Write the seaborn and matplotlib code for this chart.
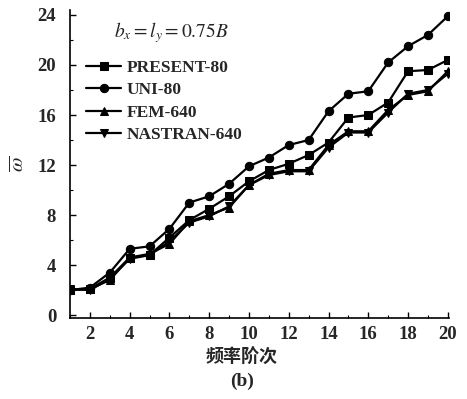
import numpy as np
import pandas as pd
import seaborn as sns
import matplotlib.pyplot as plt
from matplotlib.ticker import MultipleLocator

# frequency order 1..20
modes = list(range(1, 21))

present_80 = [2.0, 2.1, 3.0, 4.6, 4.8, 6.2, 7.6, 8.5, 9.5, 10.7,
              11.6, 12.1, 12.8, 13.8, 15.8, 16.0, 17.0, 19.5, 19.6, 20.4]
uni_80 = [2.0, 2.2, 3.4, 5.3, 5.5, 6.9, 9.0, 9.5, 10.5, 11.9,
          12.6, 13.6, 14.0, 16.3, 17.7, 17.9, 20.2, 21.5, 22.4, 23.9]
fem_640 = [2.0, 2.1, 2.8, 4.6, 4.9, 5.7, 7.5, 8.0, 8.6, 10.4,
           11.3, 11.6, 11.6, 13.6, 14.7, 14.7, 16.4, 17.6, 17.9, 19.5]
nastran_640 = [2.1, 2.0, 2.9, 4.5, 4.8, 5.9, 7.4, 7.9, 8.7, 10.4,
               11.2, 11.5, 11.5, 13.4, 14.6, 14.6, 16.2, 17.7, 18.0, 19.3]

series_names = ["PRESENT-80", "UNI-80", "FEM-640", "NASTRAN-640"]
series_vals = [present_80, uni_80, fem_640, nastran_640]
marker_map = {"PRESENT-80": "s", "UNI-80": "o", "FEM-640": "^", "NASTRAN-640": "v"}

df = pd.concat([pd.DataFrame({"mode": modes, "w": v, "series": n})
                for n, v in zip(series_names, series_vals)])

sns.set_style("ticks")
plt.rcParams['font.family'] = ['Liberation Serif', 'Noto Sans CJK SC', 'DejaVu Sans']
plt.rcParams['mathtext.fontset'] = 'stix'

fig = plt.figure(figsize=(4.67, 3.99), dpi=100)
ax = fig.add_axes([0.150, 0.204, 0.811, 0.771])

sns.lineplot(data=df, x="mode", y="w", hue="series", style="series",
             markers=marker_map, dashes=False, palette=["black"] * 4,
             hue_order=series_names, style_order=series_names,
             linewidth=1.6, markersize=6, markeredgecolor="black", ax=ax)

ax.set_xlim(1, 20.05)
ax.set_ylim(-0.2, 24.4)
ax.xaxis.set_major_locator(MultipleLocator(2))
ax.xaxis.set_minor_locator(MultipleLocator(1))
ax.yaxis.set_major_locator(MultipleLocator(4))
ax.yaxis.set_minor_locator(MultipleLocator(2))
ax.tick_params(which='both', direction='in', color='black')
ax.tick_params(which='major', length=4, width=1.0, labelsize=13.5)
ax.tick_params(axis='y', which='major', pad=10)
ax.tick_params(axis='x', which='major', pad=6)
ax.tick_params(which='minor', length=2, width=0.8)
for lab in ax.get_xticklabels() + ax.get_yticklabels():
    lab.set_fontweight('bold')
sns.despine(ax=ax)
for s in ['left', 'bottom']:
    ax.spines[s].set_linewidth(1.2)
    ax.spines[s].set_color('black')

ax.set_xlabel("")
ax.set_ylabel(r"$\overline{\omega}$", fontsize=15, rotation=90, labelpad=6)

handles, labels = ax.get_legend_handles_labels()
leg = ax.legend(handles, labels, loc='upper left', bbox_to_anchor=(0.025, 0.86),
                frameon=False, handlelength=2.0, handletextpad=0.3,
                labelspacing=0.35, borderaxespad=0,
                prop={'family': 'Liberation Serif', 'weight': 'bold', 'size': 12.5})

ax.text(0.115, 0.925, r"$b_x = l_y = 0.75B$", transform=ax.transAxes,
        fontsize=14, ha='left', va='center')

fig.text(242 / 467, 1 - 357 / 399, "频率阶次", ha='center', va='center',
         fontsize=13, fontweight='bold', family=['Noto Sans CJK SC', 'DejaVu Sans'])
fig.text(242 / 467, 1 - 381 / 399, "(b)", ha='center', va='center',
         fontsize=14, fontweight='bold', family=['Liberation Serif', 'DejaVu Sans'])

fig.savefig("out.png", dpi=100)
